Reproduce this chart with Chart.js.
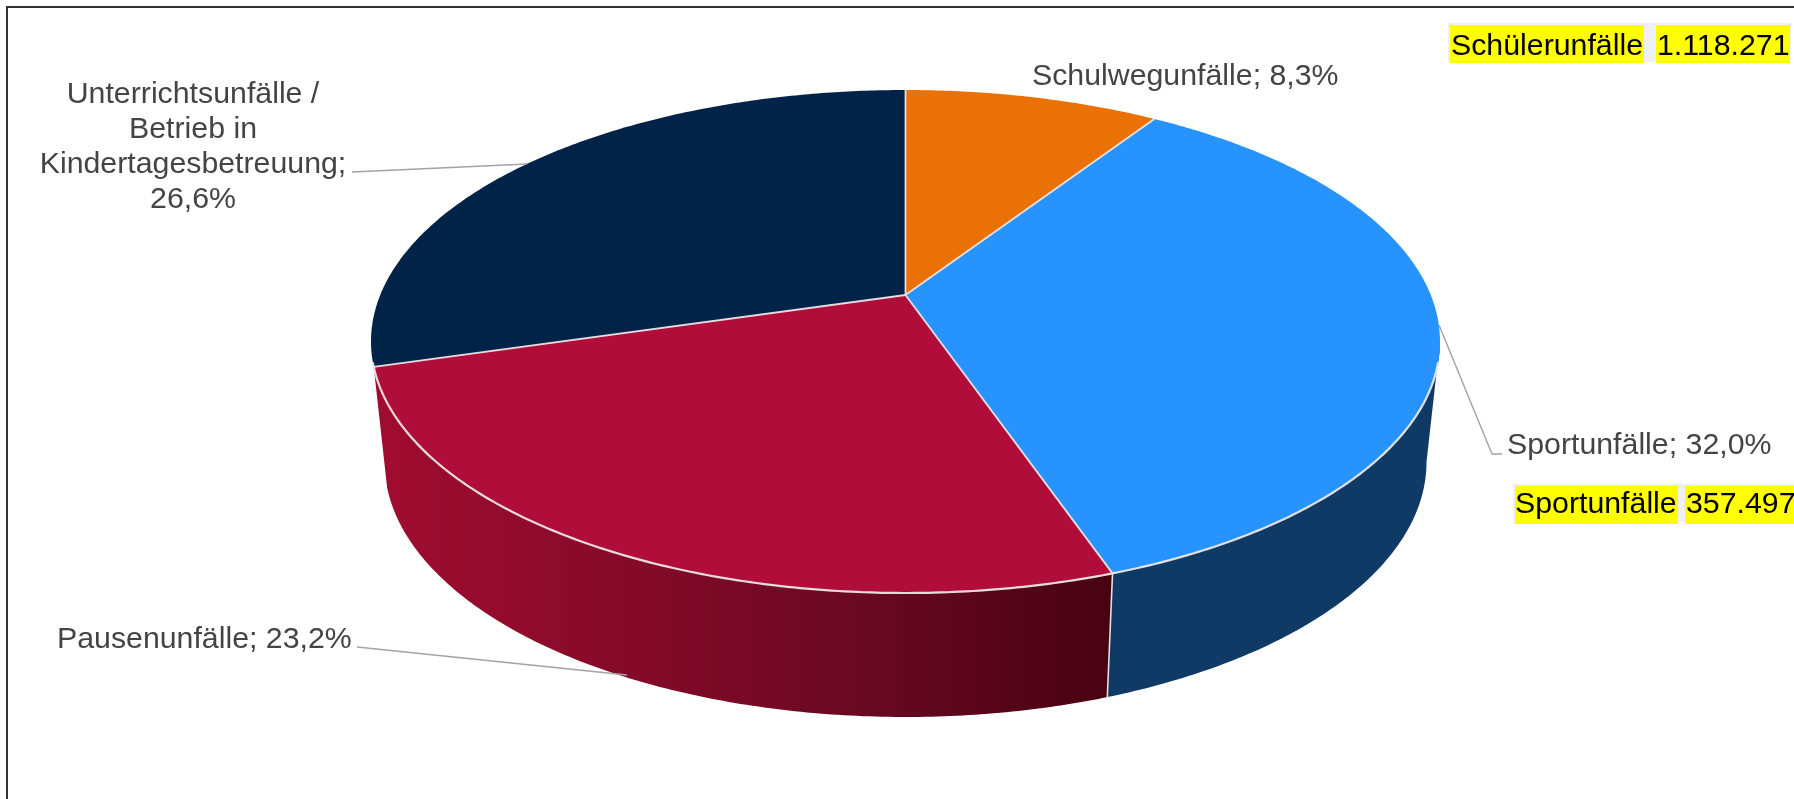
<!DOCTYPE html>
<html lang="de">
<head>
<meta charset="utf-8">
<title>Schülerunfälle</title>
<script src="https://cdn.jsdelivr.net/npm/chart.js@4"></script>
<style>
    html, body { margin: 0; padding: 0; background: #fff; }
    canvas { display: block; }
</style>
</head>
<body>
<canvas id="chart" width="1794" height="799"></canvas>
<script>
// --- Data ---
const categories = ['Schulwegunfälle', 'Sportunfälle', 'Pausenunfälle', 'Unterrichtsunfälle / Betrieb in Kindertagesbetreuung'];
const shares = [8.3, 32.0, 23.2, 26.6];
const highlightNames = ['Schülerunfälle', 'Sportunfälle'];
const highlightValues = ['1.118.271', '357.497'];

// --- Styles ---
const topColors = ['#e97105', '#2793ff', '#b00d3a', '#012348'];
const edgeColor = 'rgba(236,230,230,0.95)';
const FONT = '30.3px "Liberation Sans", Arial, sans-serif';
const TEXT_GREY = '#444444';

// perspective of the tilted disc, bottom face relative to the top face
const PERSPECTIVE = 0.1849;
const BOTTOM_FACE = { dx: 0, cy: 462, rx: 521, ry: 255 };

function formatShare(v) {
    return v.toFixed(1).replace('.', ',') + '%';
}

// angle is canvas angle from Chart.js (0 = 3 o'clock, clockwise)
function project(angle, e) {
    const u = Math.cos(angle);
    const v = -Math.sin(angle);
    const c = PERSPECTIVE;
    const w = 1 + c * v;
    const k = e.rx * Math.sqrt(1 - c * c);
    const a = -e.ry + e.cy * c;
    const b = e.cy - e.ry * c;
    return { x: e.cx + k * u / w, y: (a * v + b) / w };
}

function topFace(chart) {
    const area = chart.chartArea;
    return {
        cx: (area.left + area.right) / 2,
        cy: (area.top + area.bottom) / 2,
        rx: area.width / 2,
        ry: area.height / 2
    };
}

function samples(from, to) {
    const steps = Math.max(2, Math.ceil((to - from) / 0.01));
    const out = [];
    for (let i = 0; i <= steps; i++) {
        out.push(from + (to - from) * i / steps);
    }
    return out;
}

// only the part of a wall facing the viewer, from the silhouette on
function drawWall(ctx, arc, paint, top, bottom) {
    const from = Math.max(arc.startAngle, Math.asin(PERSPECTIVE));
    const angles = samples(from, arc.endAngle);
    ctx.beginPath();
    angles.forEach((a, n) => {
        const p = project(a, top);
        n ? ctx.lineTo(p.x, p.y) : ctx.moveTo(p.x, p.y);
    });
    angles.reverse().forEach(a => {
        const p = project(a, bottom);
        ctx.lineTo(p.x, p.y);
    });
    ctx.closePath();
    ctx.fillStyle = paint;
    ctx.fill();
}

function drawWallEdge(ctx, angle, top, bottom) {
    const p = project(angle, top);
    const q = project(angle, bottom);
    ctx.beginPath();
    ctx.moveTo(p.x, p.y);
    ctx.lineTo(q.x, q.y);
    ctx.strokeStyle = edgeColor;
    ctx.lineWidth = 1.6;
    ctx.stroke();
}

function drawTop(ctx, arc, i, top) {
    const apex = { x: top.cx, y: top.cy - top.ry * PERSPECTIVE };
    ctx.beginPath();
    ctx.moveTo(apex.x, apex.y);
    samples(arc.startAngle, arc.endAngle).forEach(a => {
        const p = project(a, top);
        ctx.lineTo(p.x, p.y);
    });
    ctx.closePath();
    ctx.fillStyle = topColors[i];
    ctx.fill();
}

// spokes between the slices and the pale rim along the front
function drawTopEdges(ctx, arcs, top) {
    const apex = { x: top.cx, y: top.cy - top.ry * PERSPECTIVE };
    ctx.strokeStyle = edgeColor;
    ctx.lineWidth = 1.8;
    arcs.forEach(arc => {
        const p = project(arc.startAngle, top);
        ctx.beginPath();
        ctx.moveTo(apex.x, apex.y);
        ctx.lineTo(p.x, p.y);
        ctx.stroke();
    });
    const from = Math.asin(PERSPECTIVE) + 0.08;
    ctx.beginPath();
    samples(from, Math.PI - Math.asin(PERSPECTIVE) - 0.08).forEach((a, n) => {
        const p = project(a, top);
        n ? ctx.lineTo(p.x, p.y) : ctx.moveTo(p.x, p.y);
    });
    ctx.lineWidth = 2.2;
    ctx.stroke();
}

function leader(ctx, pts) {
    ctx.beginPath();
    pts.forEach((p, n) => n ? ctx.lineTo(p[0], p[1]) : ctx.moveTo(p[0], p[1]));
    ctx.strokeStyle = '#a3a3a3';
    ctx.lineWidth = 1.4;
    ctx.stroke();
}

function text(ctx, str, x, y, color, align) {
    ctx.fillStyle = color;
    ctx.textAlign = align || 'left';
    ctx.fillText(str, x, y);
}

function marked(ctx, str, box, textX, baseline) {
    ctx.fillStyle = '#ffff00';
    ctx.fillRect(box[0], box[1], box[2], box[3]);
    text(ctx, str, textX, baseline, '#000000');
}

const disc3d = {
    id: 'disc3d',
    // tilted disc instead of the flat arcs, angles still come from the arc elements
    beforeDatasetDraw(chart) {
        const ctx = chart.ctx;
        const arcs = chart.getDatasetMeta(0).data;
        const top = topFace(chart);
        const bottom = { cx: top.cx + BOTTOM_FACE.dx, cy: BOTTOM_FACE.cy, rx: BOTTOM_FACE.rx, ry: BOTTOM_FACE.ry };
        ctx.save();
        ctx.lineJoin = 'round';

        const redWall = ctx.createLinearGradient(380, 0, 1112, 0);
        redWall.addColorStop(0, '#a00c30');
        redWall.addColorStop(0.35, '#840a29');
        redWall.addColorStop(0.7, '#650820');
        redWall.addColorStop(1, '#470212');

        drawWall(ctx, arcs[1], '#103a66', top, bottom);
        drawWall(ctx, arcs[2], redWall, top, bottom);
        drawWallEdge(ctx, arcs[1].endAngle, top, bottom);
        arcs.forEach((arc, i) => drawTop(ctx, arc, i, top));
        drawTopEdges(ctx, arcs, top);
        ctx.restore();
        return false;
    },
    afterDraw(chart) {
        const ctx = chart.ctx;
        ctx.save();

        // frame, open to the right and the bottom
        ctx.beginPath();
        ctx.moveTo(7, 799);
        ctx.lineTo(7, 7);
        ctx.lineTo(1794, 7);
        ctx.strokeStyle = '#333333';
        ctx.lineWidth = 2;
        ctx.stroke();

        leader(ctx, [[352, 172], [527, 164]]);
        leader(ctx, [[1439, 325], [1492, 454], [1502, 454]]);
        leader(ctx, [[357, 647], [627, 675]]);

        ctx.font = FONT;
        ctx.textBaseline = 'alphabetic';
        text(ctx, `${categories[0]}; ${formatShare(shares[0])}`, 1032, 85, TEXT_GREY);
        text(ctx, `${categories[1]}; ${formatShare(shares[1])}`, 1507, 454, TEXT_GREY);
        text(ctx, `${categories[2]}; ${formatShare(shares[2])}`, 57, 648, TEXT_GREY);
        text(ctx, 'Unterrichtsunfälle /', 193, 103, TEXT_GREY, 'center');
        text(ctx, 'Betrieb in', 193, 138, TEXT_GREY, 'center');
        text(ctx, 'Kindertagesbetreuung;', 193, 173, TEXT_GREY, 'center');
        text(ctx, formatShare(shares[3]), 193, 208, TEXT_GREY, 'center');

        ctx.fillStyle = '#eef0f7';
        ctx.fillRect(1448, 23, 343, 39);
        ctx.fillRect(1513, 484, 281, 38);
        marked(ctx, highlightNames[0], [1450, 25, 194, 38], 1451, 55);
        marked(ctx, highlightValues[0], [1656, 25, 134, 38], 1657, 55);
        marked(ctx, highlightNames[1], [1515, 486, 163, 38], 1515, 513);
        marked(ctx, highlightValues[1], [1685, 486, 109, 38], 1686, 513);
        ctx.restore();
    }
};

new Chart(document.getElementById('chart').getContext('2d'), {
    type: 'pie',
    data: {
        labels: categories,
        datasets: [{
            data: shares,
            backgroundColor: topColors,
            borderWidth: 0
        }]
    },
    options: {
        responsive: false,
        devicePixelRatio: 1,
        animation: false,
        layout: { padding: { left: 371, right: 354, top: 90, bottom: 206 } },
        plugins: {
            legend: { display: false },
            tooltip: { enabled: false }
        }
    },
    plugins: [disc3d]
});
</script>
</body>
</html>
